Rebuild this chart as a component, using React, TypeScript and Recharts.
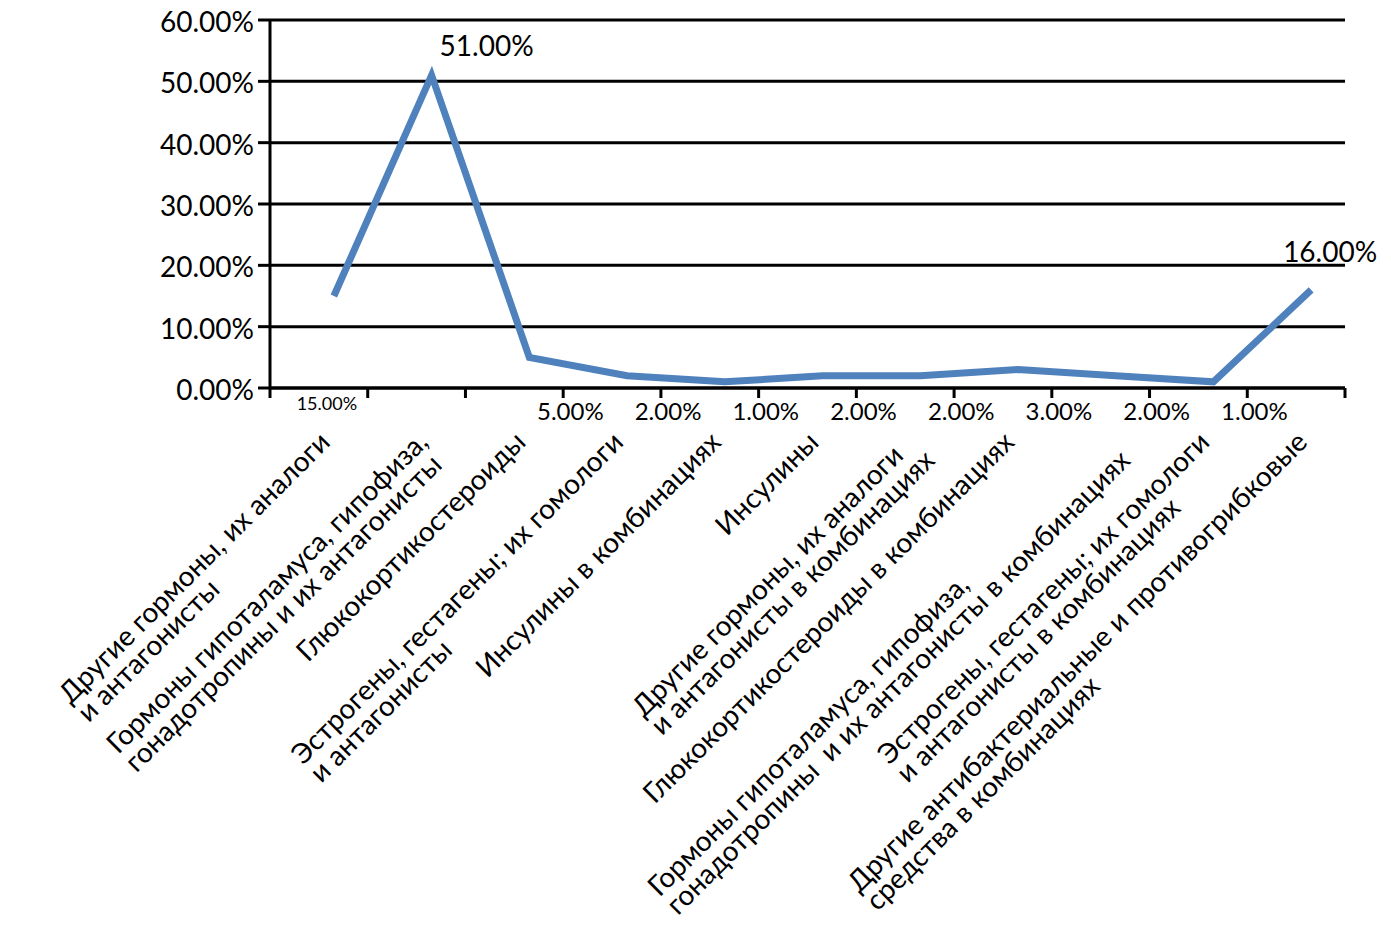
import * as React from "react";
import {
  LineChart,
  Line,
  XAxis,
  YAxis,
  CartesianGrid,
  LabelList,
} from "recharts";

const categories = [
  "Другие гормоны, их аналоги\nи антагонисты",
  "Гормоны гипоталамуса, гипофиза,\nгонадотропины и их антагонисты",
  "Глюкокортикостероиды",
  "Эстрогены, гестагены; их гомологи\nи антагонисты",
  "Инсулины в комбинациях",
  "Инсулины",
  "Другие гормоны, их аналоги\nи антагонисты в комбинациях",
  "Глюкокортикостероиды в комбинациях",
  "Гормоны гипоталамуса, гипофиза,\nгонадотропины  и их антагонисты в комбинациях",
  "Эстрогены, гестагены; их гомологи\nи антагонисты в комбинациях",
  "Другие антибактериальные и противогрибковые\nсредства в комбинациях",
];

const shares = [15, 51, 5, 2, 1, 2, 2, 3, 2, 1, 16];

const yTicks = [0, 10, 20, 30, 40, 50, 60];

// pos = middle of each category slot, so a numeric axis can draw the slot edges
const data = categories.map((name, i) => ({ name, share: shares[i], pos: i + 0.5 }));
const edgeTicks = [...categories.map((_, i) => i), categories.length];

const FONT = "Lato, 'Noto Sans', sans-serif";
const BLUE = "#4F81BD";
const PLOT_BOTTOM = 388; // top margin + plot height, used for labels under the axis

const TICK_FS = 28;
const TICK_LH = 26;

let measureCtx: CanvasRenderingContext2D | null = null;
const measure = (text: string, size: number) => {
  if (!measureCtx) measureCtx = document.createElement("canvas").getContext("2d");
  if (!measureCtx) return text.length * size * 0.5;
  measureCtx.font = `${size}px Lato, 'Noto Sans', sans-serif`;
  return measureCtx.measureText(text).width;
};

const CategoryTick = (props: any) => {
  const { x, y, payload } = props;
  const lines: string[] = String(payload.value).split("\n");
  const maxW = Math.max(...lines.map((l) => measure(l, TICK_FS)));
  return (
    <g transform={`translate(${x - 18},${y + 30}) rotate(-45)`}>
      {lines.map((l, i) => (
        <text
          key={i}
          x={-maxW}
          y={TICK_FS * 0.8 + i * TICK_LH}
          fontSize={TICK_FS}
          fontFamily={FONT}
          fill="#000"
          textAnchor="start"
          style={{ whiteSpace: "pre" }}
        >
          {l}
        </text>
      ))}
    </g>
  );
};

const ShareLabel = (props: any) => {
  const { x, y, value, index } = props;
  const text = `${Number(value).toFixed(2)}%`;
  if (index === 0) {
    return (
      <text x={x - 7} y={PLOT_BOTTOM + 22} fontSize={18} fontFamily={FONT} textAnchor="middle" fill="#000">
        {text}
      </text>
    );
  }
  if (index === 1) {
    return (
      <text x={x + 8} y={y - 19} fontSize={28} fontFamily={FONT} textAnchor="start" fill="#000">
        {text}
      </text>
    );
  }
  if (index === categories.length - 1) {
    return (
      <text x={x + 19} y={y - 28} fontSize={28} fontFamily={FONT} textAnchor="middle" fill="#000">
        {text}
      </text>
    );
  }
  return (
    <text x={x + 41} y={PLOT_BOTTOM + 32} fontSize={24} fontFamily={FONT} textAnchor="middle" fill="#000">
      {text}
    </text>
  );
};

export default function App() {
  return (
    <div style={{ position: "absolute", left: 0, top: 0, background: "#fff" }}>
      <LineChart
        width={1391}
        height={925}
        data={data}
        margin={{ top: 20, right: 46, bottom: 0, left: 0 }}
      >
        <CartesianGrid vertical={false} stroke="#000" strokeWidth={3} />
        <XAxis
          xAxisId="axisA"
          dataKey="pos"
          type="number"
          domain={[0, categories.length]}
          ticks={edgeTicks}
          interval={0}
          allowDataOverflow
          height={10}
          tick={() => <g />}
          tickSize={10}
          tickMargin={0}
          axisLine={{ stroke: "#000", strokeWidth: 3 }}
          tickLine={{ stroke: "#000", strokeWidth: 3 }}
        />
        <XAxis
          xAxisId="axisB"
          dataKey="name"
          type="category"
          scale="band"
          interval={0}
          height={527}
          padding={{ left: 15, right: -15 }}
          axisLine={false}
          tickLine={false}
          tickSize={0}
          tickMargin={0}
          tick={<CategoryTick />}
        />
        <YAxis
          width={270}
          domain={[0, 60]}
          ticks={yTicks}
          interval={0}
          tickFormatter={(v: number) => `${v.toFixed(2)}%`}
          tick={{ fontSize: 28, fontFamily: FONT, fill: "#000", dy: 2 }}
          tickSize={12}
          tickMargin={4}
          axisLine={{ stroke: "#000", strokeWidth: 3 }}
          tickLine={{ stroke: "#000", strokeWidth: 3 }}
        />
        <Line
          xAxisId="axisB"
          dataKey="share"
          stroke={BLUE}
          strokeWidth={7}
          dot={false}
          activeDot={false}
          isAnimationActive={false}
        >
          <LabelList dataKey="share" content={<ShareLabel />} />
        </Line>
      </LineChart>
    </div>
  );
}
